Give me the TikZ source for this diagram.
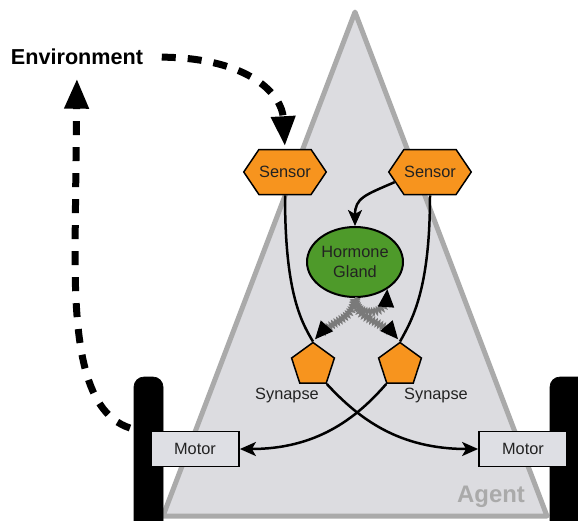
\documentclass[tikz,border=0pt]{standalone}
\usepackage{fontspec}
\setmainfont{Liberation Sans}
\usetikzlibrary{arrows.meta,shapes.geometric,shapes.symbols,decorations.pathmorphing}

\begin{document}
\begin{tikzpicture}[x=0.2mm, y=-0.2mm, font=\fontsize{9.3}{11}\selectfont, text=textColour]
    \definecolor{agentFill}{HTML}{DCDCE0}
    \definecolor{agentBorder}{HTML}{AAAAAA}
    \definecolor{sensorColour}{HTML}{F7941E}
    \definecolor{glandColour}{HTML}{4E9A2A}
    \definecolor{motorFill}{HTML}{DEDFE4}
    \definecolor{textColour}{HTML}{222222}
    \definecolor{hormoneColour}{HTML}{7A7A7A}

    \tikzset{
        sensor/.style={signal, signal to=east and west, signal pointer angle=112,
            fill=sensorColour, draw=black, line width=0.3mm,
            minimum width=16.5mm, minimum height=9mm, inner sep=0pt},
        synapse/.style={regular polygon, regular polygon sides=5, fill=sensorColour,
            draw=black, line width=0.3mm, minimum size=9mm, inner sep=0pt},
        gland/.style={ellipse, fill=glandColour, draw=black, line width=0.4mm,
            minimum width=19.2mm, minimum height=14mm, inner sep=0pt, align=center},
        motor/.style={rectangle, fill=motorFill, draw=black, line width=0.35mm,
            minimum width=17.6mm, minimum height=7mm, inner sep=0pt},
        link/.style={draw=black, line width=0.5mm},
        linkArrow/.style={link, -{Stealth[length=3.2mm, width=2.8mm, inset=0.8mm]}},
        envLink/.style={draw=black, line width=1.4mm, dash pattern=on 2.8mm off 2.4mm,
            -{Triangle[length=6mm, width=4.6mm]}},
        hormone/.style={draw=hormoneColour, line width=0.35mm,
            decorate, decoration={snake, amplitude=0.6mm, segment length=0.6mm, post length=2.4mm},
            -{Triangle[length=3.6mm, width=3.2mm, color=black]}}
    }

    \clip (0,0) rectangle (578,520);

    % Agent body
    \draw[fill=agentFill, draw=agentBorder, line width=1mm, line join=round]
        (355,12) -- (547,516) -- (163,516) -- cycle;
    \node[font=\bfseries\fontsize{13.6}{16}\selectfont, text=agentBorder] (agentLabel) at (491,497) {Agent};

    % Wheels
    \draw[fill=black, rounded corners=2mm] (134,377) rectangle (163,540);
    \draw[fill=black, rounded corners=2mm] (550,377) rectangle (590,540);

    % Motors
    \node[motor] (motorL) at (195,449) {Motor};
    \node[motor] (motorR) at (523,449) {Motor};

    % Sensors, gland and synapses
    \node[sensor] (sensorL) at (285,172) {Sensor};
    \node[sensor] (sensorR) at (430,172) {Sensor};
    \node[gland] (gland) at (355,262) {Hormone\\Gland};
    \node[synapse] (synL) at (313,365) {};
    \node[synapse] (synR) at (400,365) {};
    \node (synLabelL) at (287,395) {Synapse};
    \node (synLabelR) at (436,395) {Synapse};

    % Environment loop
    \node[font=\bfseries\fontsize{12.3}{14}\selectfont, text=black] (env) at (77,57) {Environment};
    \coordinate (wheelOut) at (130,428);
    \draw[envLink, shorten <=2.5mm, shorten >=0.5mm] (env.east) .. controls (250,58) and (282,95) .. (sensorL.north);
    \draw[envLink, shorten >=1.5mm] (wheelOut) .. controls (80,412) and (75,330) .. (75,250) -- (env.south);

    % Sensor to synapse wiring
    \draw[link] (sensorL.south) .. controls (285,290) and (300,320) .. (synL.north);
    \draw[link] (sensorR.south) .. controls (430,290) and (412,320) .. (synR.north);
    \draw[linkArrow] (sensorR.196) .. controls (365,195) and (355,198) .. (gland.north);

    % Hormone release
    \draw[hormone, shorten >=0.6mm] (gland.south) .. controls (352,322) and (330,318) .. (synL.north);
    \draw[hormone, shorten >=0.6mm] (gland.south) .. controls (356,322) and (385,318) .. (synR.north);
    \draw[hormone] (gland.south) .. controls (356,318) and (392,316) .. (gland.-40);

    % Crossed connections to the motors
    \draw[linkArrow] (synL.corner 4) .. controls (360,420) and (400,449) .. (motorR.west);
    \draw[linkArrow] (synR.corner 3) .. controls (355,420) and (315,449) .. (motorL.east);

\end{tikzpicture}
\end{document}
